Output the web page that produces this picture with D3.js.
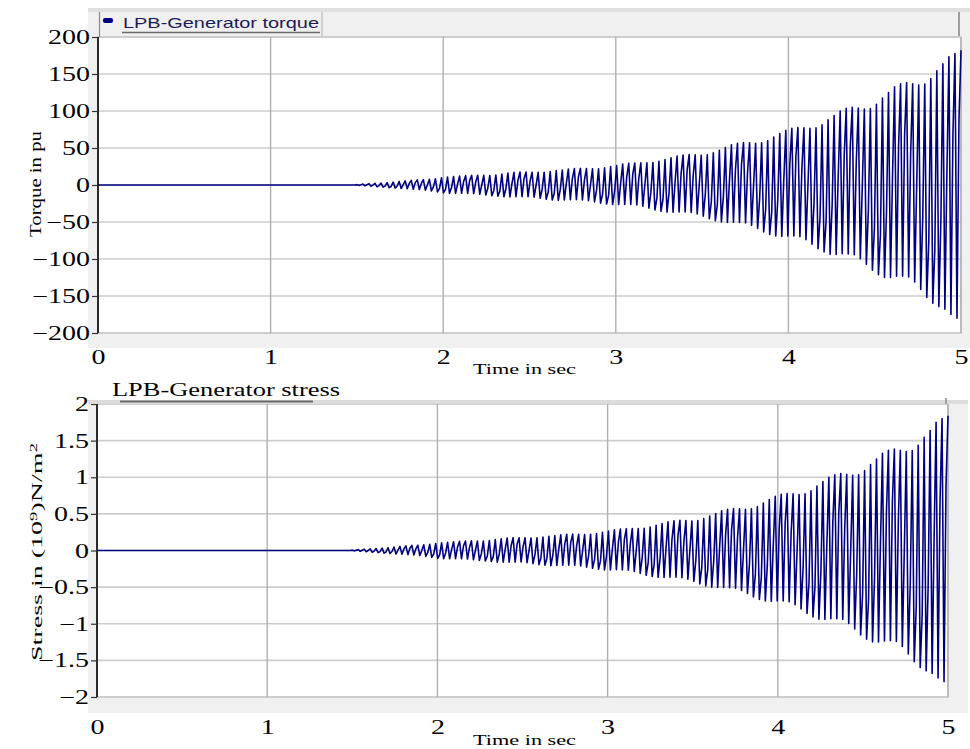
<!DOCTYPE html>
<html><head><meta charset="utf-8">
<script src="https://cdn.jsdelivr.net/npm/d3@7/dist/d3.min.js"></script>
<style>body{margin:0;background:#fff}svg{display:block}</style>
</head><body>
<svg id="c" width="970" height="749"></svg>
<script>
// ---- data ----
// quiet lead-in before the oscillation starts
const leadTime = [0, 1.49];
const torqueLead = [0, 0];
const stressLead = [0, 0];
// one entry per visible oscillation cycle: start time, upper tip, lower tip, inner (beat) level
const cycleStart = [1.500,1.535,1.570,1.605,1.640,1.675,1.710,1.745,1.780,1.815,
1.850,1.885,1.920,1.955,1.990,2.025,2.060,2.095,2.130,2.165,
2.200,2.235,2.270,2.305,2.340,2.375,2.410,2.445,2.480,2.515,
2.550,2.585,2.620,2.655,2.690,2.725,2.760,2.795,2.830,2.865,
2.900,2.935,2.970,3.005,3.040,3.075,3.110,3.145,3.180,3.215,
3.250,3.285,3.320,3.355,3.390,3.425,3.460,3.495,3.530,3.565,
3.600,3.635,3.670,3.705,3.740,3.775,3.810,3.845,3.880,3.915,
3.950,3.985,4.020,4.055,4.090,4.125,4.160,4.195,4.230,4.265,
4.300,4.335,4.370,4.405,4.440,4.475,4.510,4.545,4.580,4.615,
4.650,4.685,4.720,4.755,4.790,4.825,4.860,4.895,4.930,4.965];
const endTime = 5.0;
const torqueTop = [0.5,1.2,1.8,2.3,2.6,3.2,3.9,4.8,5.6,6.3,6.9,7.2,7.7,8.4,9.6,10.6,11.3,12,12.6,13,13.2,13,12.9,13.6,14.9,16,17.1,17.5,17.4,17.2,17.1,17.3,18.2,19.4,20.3,21.5,22.2,22.4,22.2,21.9,22,23.1,24.8,26.4,28.2,29.3,29.8,29.9,29.9,30.4,32,34.4,36.7,39.2,40.6,41.2,40.8,40.3,40.9,43.5,47,50.5,54.2,56.3,57.2,56.9,56.3,56.9,60.1,64.9,69.4,74,76.6,77.8,77.3,76.5,77.3,81.5,88.1,94,100,103.5,104.9,103.9,102.6,103.4,109,117.5,124.9,132.7,136.8,138.4,136.9,135.2,136.4,143.7,154.4,163.7,173.3,177.8];
const torqueBottom = [-0.5,-1.1,-1.7,-2.4,-2.9,-3.6,-4.2,-4.8,-5.2,-5.7,-6.2,-6.9,-8.1,-9.4,-10.7,-11.3,-11.3,-11.2,-11.3,-11.7,-12.6,-13.5,-14.4,-15.1,-15.8,-16,-15.9,-15.8,-15.7,-16.5,-17.9,-19.3,-20.2,-20.6,-20.3,-20,-20,-20.2,-21.2,-22.8,-24.5,-25.7,-26.4,-26.4,-26.2,-26.4,-26.8,-28.6,-31.2,-33.8,-35.5,-36.6,-36.7,-36.5,-36.5,-37,-39.1,-42.1,-45.6,-48.3,-50,-50.5,-50.4,-50.7,-51.4,-54.5,-58.8,-63.4,-66.8,-69,-69.4,-68.8,-68.9,-69.9,-74,-79.9,-86,-90.6,-93.7,-94,-93,-93.2,-94.2,-99.5,-107.2,-115.2,-121.1,-125,-124.9,-123.4,-123.1,-124.3,-131,-141.2,-151.9,-159.7,-164.3,-168,-175,-180];
const torqueInner = [0.3,0.4,0,-0.8,-1.5,-2,-1.3,0.5,2.2,3.2,2.1,0,-2.6,-4.8,-5.9,-3.4,1.2,4.8,6.3,4,0,-4.3,-7.4,-8.3,-4.7,1.7,6.8,8.8,5.3,0,-5.7,-9.9,-11.1,-6.2,2.1,8.6,11.1,6.9,0,-7.3,-12.5,-14.1,-7.9,2.7,11.3,14.7,9.1,0,-10,-17.3,-19.5,-11,3.8,15.7,20.3,12.6,0,-13.4,-23.3,-26.6,-15,5.2,21.7,28.2,17.5,0,-18.8,-32.4,-36.7,-20.7,7.2,29.6,38.3,23.8,0,-25.5,-43.9,-49.8,-28.1,9.7,40,51.8,32.1,0,-34.2,-58.8,-66.6,-37.5,12.9,53.1,68.4,42.4,0,-45.1,-77.5,-87.8,-49.3,16.9,69.3,88.9];
const torqueEnd = 182;
const stressTop = [0.005,0.012,0.018,0.023,0.026,0.032,0.039,0.048,0.056,0.063,0.069,0.072,0.077,0.084,0.096,0.106,0.113,0.120,0.126,0.130,0.132,0.130,0.129,0.136,0.149,0.160,0.171,0.175,0.174,0.172,0.171,0.173,0.182,0.194,0.203,0.215,0.222,0.224,0.222,0.219,0.220,0.231,0.248,0.264,0.282,0.293,0.298,0.299,0.299,0.304,0.320,0.344,0.367,0.392,0.406,0.412,0.408,0.403,0.409,0.435,0.470,0.505,0.542,0.563,0.572,0.569,0.563,0.569,0.601,0.649,0.694,0.740,0.766,0.778,0.773,0.765,0.773,0.815,0.881,0.940,1.000,1.035,1.049,1.039,1.026,1.034,1.090,1.175,1.249,1.327,1.368,1.384,1.369,1.352,1.364,1.437,1.544,1.637,1.750,1.800];
const stressBottom = [-0.005,-0.011,-0.017,-0.024,-0.029,-0.036,-0.042,-0.048,-0.052,-0.057,-0.062,-0.069,-0.081,-0.094,-0.107,-0.113,-0.113,-0.112,-0.113,-0.117,-0.126,-0.135,-0.144,-0.151,-0.158,-0.160,-0.159,-0.158,-0.157,-0.165,-0.179,-0.193,-0.202,-0.206,-0.203,-0.200,-0.200,-0.202,-0.212,-0.228,-0.245,-0.257,-0.264,-0.264,-0.262,-0.264,-0.268,-0.286,-0.312,-0.338,-0.355,-0.366,-0.367,-0.365,-0.365,-0.370,-0.391,-0.421,-0.456,-0.483,-0.500,-0.505,-0.504,-0.507,-0.514,-0.545,-0.588,-0.634,-0.668,-0.690,-0.694,-0.688,-0.689,-0.699,-0.740,-0.799,-0.860,-0.906,-0.937,-0.940,-0.930,-0.932,-0.942,-0.995,-1.072,-1.152,-1.211,-1.250,-1.249,-1.234,-1.231,-1.243,-1.310,-1.412,-1.519,-1.597,-1.643,-1.680,-1.740,-1.790];
const stressInner = [0.003,0.004,0,-0.008,-0.015,-0.020,-0.013,0.005,0.022,0.032,0.021,0,-0.026,-0.048,-0.059,-0.034,0.012,0.048,0.063,0.040,0,-0.043,-0.074,-0.083,-0.047,0.017,0.068,0.088,0.053,0,-0.057,-0.099,-0.111,-0.062,0.021,0.086,0.111,0.069,0,-0.073,-0.125,-0.141,-0.079,0.027,0.113,0.147,0.091,0,-0.100,-0.173,-0.195,-0.110,0.038,0.157,0.203,0.126,0,-0.134,-0.233,-0.266,-0.150,0.052,0.217,0.282,0.175,0,-0.188,-0.324,-0.367,-0.207,0.072,0.296,0.383,0.238,0,-0.255,-0.439,-0.498,-0.281,0.097,0.400,0.518,0.321,0,-0.342,-0.588,-0.666,-0.375,0.129,0.531,0.684,0.424,0,-0.451,-0.775,-0.878,-0.493,0.169,0.693,0.889];
const stressEnd = 1.84;
const xTickVals = [0,1,2,3,4,5];
const xTickLabels = ["0","1","2","3","4","5"];
const torqueTickVals = [200,150,100,50,0,-50,-100,-150,-200];
const torqueTickLabels = ["200","150","100","50","0","\u221250","\u2212100","\u2212150","\u2212200"];
const stressTickVals = [2,1.5,1,0.5,0,-0.5,-1,-1.5,-2];
const stressTickLabels = ["2","1.5","1","0.5","0","\u22120.5","\u22121","\u22121.5","\u22122"];
const torqueLegend = "LPB-Generator torque";
const stressLegend = "LPB-Generator stress";
const xTitle = "Time in sec";

// ---- drawing ----
const svg = d3.select("#c");
const SERIF = "'Liberation Serif','Times New Roman',serif";
const SANS = "'Liberation Sans',Arial,sans-serif";
const STRETCH = 1.4;

function buildPoints(lead, topV, botV, innerV, endV){
  const pts = leadTime.map((t,i)=>[t, lead[i]]);
  cycleStart.forEach((t,i)=>{
    const p = (i < cycleStart.length-1 ? cycleStart[i+1] : endTime) - t;
    pts.push([t, topV[i]], [t + p/3, botV[i]], [t + 2*p/3, innerV[i]]);
  });
  pts.push([endTime, endV]);
  return pts;
}

function drawPanel(o){
  const g = svg.append("g");
  g.append("rect").attr("x",o.bg[0]).attr("y",o.bg[1]).attr("width",o.bg[2]).attr("height",o.bg[3]).attr("fill","#f0f0f0");
  const x = d3.scaleLinear().domain([0,5]).range([o.x0,o.x1]);
  const y = d3.scaleLinear().domain([o.yMin,o.yMax]).range([o.y1,o.y0]);
  g.append("rect").attr("x",o.x0).attr("y",o.y0).attr("width",o.x1-o.x0).attr("height",o.y1-o.y0)
    .attr("fill","#fff").attr("stroke","#c4c4c4").attr("stroke-width",1.5);
  g.selectAll(".hg").data(o.yTicks).enter().append("line")
    .attr("x1",o.x0).attr("x2",o.x1).attr("y1",d=>y(d)).attr("y2",d=>y(d))
    .attr("stroke","#cdcdcd").attr("stroke-width",1.6);
  g.selectAll(".vg").data(xTickVals.slice(1)).enter().append("line")
    .attr("x1",d=>x(d)).attr("x2",d=>x(d)).attr("y1",o.y0).attr("y2",o.y1)
    .attr("stroke","#b0b0b0").attr("stroke-width",1.4);
  const cid = "clip"+o.id;
  svg.append("clipPath").attr("id",cid).append("rect").attr("x",o.x0).attr("y",o.y0-1).attr("width",o.x1-o.x0+1).attr("height",o.y1-o.y0+2);
  g.append("path").attr("d",d3.line().x(d=>x(d[0])).y(d=>y(d[1]))(o.pts))
    .attr("clip-path","url(#"+cid+")")
    .attr("fill","none").attr("stroke","#000080").attr("stroke-width",1.6).attr("stroke-linejoin","round");
  const ya = g.append("g").attr("transform","translate("+o.x0+",0)")
    .call(d3.axisLeft(y).tickValues(o.yTicks).tickSize(6).tickFormat((d,i)=>o.yLabels[i]));
  ya.select(".domain").attr("stroke","#000").attr("stroke-width",1.6).attr("d","M0,"+o.y0+"V"+o.y1);
  ya.selectAll(".tick line").attr("stroke","#333").attr("stroke-width",1.2);
  ya.selectAll(".tick text").attr("font-family",SERIF).attr("font-size",20).attr("fill","#000")
    .attr("x",-8/STRETCH).attr("dy","0.33em").attr("transform","scale("+STRETCH+",1)");
  const xa = g.append("g").attr("transform","translate(0,"+o.y1+")")
    .call(d3.axisBottom(x).tickValues(xTickVals).tickSize(0).tickFormat((d,i)=>xTickLabels[i]));
  xa.select(".domain").remove();
  xa.selectAll(".tick text").attr("font-family",SERIF).attr("font-size",20).attr("fill","#000")
    .attr("y",o.xLabDy).attr("dy",0).attr("transform","scale("+STRETCH+",1)");
  g.append("text").attr("x",o.xtX).attr("y",o.xtY).attr("font-family",SERIF).attr("font-size",15)
    .attr("textLength",103).attr("lengthAdjust","spacingAndGlyphs").text(xTitle);
  return {g,x,y};
}

// ---- top panel: torque ----
const topPanel = drawPanel({id:"t",bg:[88,8,882,340],x0:98,x1:961,y0:37,y1:333,yMin:-200,yMax:200,
  yTicks:torqueTickVals,yLabels:torqueTickLabels,
  pts:buildPoints(torqueLead,torqueTop,torqueBottom,torqueInner,torqueEnd),xLabDy:31,xtX:473,xtY:374});
const tg = topPanel.g;
tg.append("rect").attr("x",88).attr("y",8).attr("width",882).attr("height",4).attr("fill","#e0e0e0");
tg.append("line").attr("x1",99.5).attr("x2",99.5).attr("y1",12).attr("y2",37).attr("stroke","#8a8a8a").attr("stroke-width",1.2);
tg.append("line").attr("x1",959).attr("x2",959).attr("y1",12).attr("y2",36).attr("stroke","#8a8a8a").attr("stroke-width",1.6);
tg.append("line").attr("x1",322).attr("x2",322).attr("y1",12).attr("y2",36).attr("stroke","#b0b0b0").attr("stroke-width",1);
tg.append("rect").attr("x",103).attr("y",18).attr("width",10).attr("height",5).attr("rx",2).attr("fill","#00007f");
tg.append("text").attr("x",123).attr("y",28).attr("font-family",SANS).attr("font-size",15).attr("fill","#1c1c58")
  .attr("textLength",196).attr("lengthAdjust","spacingAndGlyphs").text(torqueLegend);
tg.append("line").attr("x1",122).attr("x2",320).attr("y1",32.5).attr("y2",32.5).attr("stroke","#6a6a6a").attr("stroke-width",1.4);
tg.append("text").attr("transform","translate(41,184) rotate(-90)").attr("text-anchor","middle")
  .attr("font-family",SERIF).attr("font-size",16).attr("textLength",106).attr("lengthAdjust","spacingAndGlyphs").text("Torque in pu");

// ---- bottom panel: stress ----
const botPanel = drawPanel({id:"b",bg:[88,400,880,313],x0:97,x1:948,y0:404,y1:697,yMin:-2,yMax:2,
  yTicks:stressTickVals,yLabels:stressTickLabels,
  pts:buildPoints(stressLead,stressTop,stressBottom,stressInner,stressEnd),xLabDy:37,xtX:473,xtY:745});
const bg2 = botPanel.g;
bg2.append("rect").attr("x",88).attr("y",400).attr("width",880).attr("height",4).attr("fill","#dcdcdc");
bg2.append("line").attr("x1",120).attr("x2",313).attr("y1",401.5).attr("y2",401.5).attr("stroke","#6a6a6a").attr("stroke-width",2);
bg2.append("line").attr("x1",946).attr("x2",946).attr("y1",398).attr("y2",404).attr("stroke","#8a8a8a").attr("stroke-width",1.5);
svg.append("text").attr("x",112).attr("y",396).attr("font-family",SERIF).attr("font-size",19).attr("fill","#000")
  .attr("textLength",228).attr("lengthAdjust","spacingAndGlyphs").text(stressLegend);
const st = svg.append("text").attr("transform","translate(42,552) rotate(-90)").attr("text-anchor","middle")
  .attr("font-family",SERIF).attr("font-size",15).attr("textLength",218).attr("lengthAdjust","spacingAndGlyphs");
st.append("tspan").text("Stress in (10");
st.append("tspan").attr("baseline-shift","super").attr("font-size",10).text("9");
st.append("tspan").text(")N/m");
st.append("tspan").attr("baseline-shift","super").attr("font-size",10).text("2");
</script>
</body></html>
